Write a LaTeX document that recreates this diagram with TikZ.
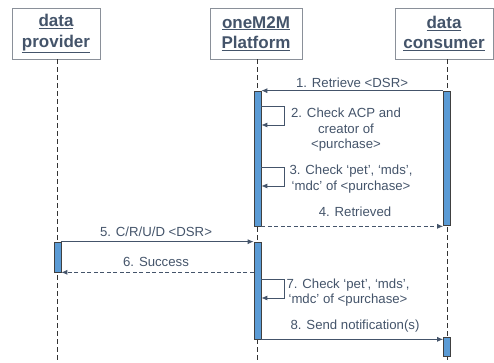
\documentclass[tikz,border=0pt]{standalone}
\usepackage{fontspec}
\setmainfont{Liberation Sans}
\usepackage{xcolor}
\usetikzlibrary{positioning,calc,arrows.meta}
\definecolor{slate}{HTML}{44546A}
\definecolor{barblue}{HTML}{5B9BD5}
\definecolor{boxgray}{HTML}{8A9099}

\begin{document}
\begin{tikzpicture}[
    x=1pt, y=-1pt,
    every node/.style={inner sep=0pt, text=slate},
    actor/.style={rectangle, draw=boxgray, line width=0.9pt, minimum height=51pt,
        align=center, font=\fontsize{17}{20.5}\selectfont\bfseries},
    bar/.style={rectangle, draw=black!75, fill=barblue, line width=0.7pt, minimum width=7pt},
    lifeline/.style={draw=black!80, line width=0.7pt, dash pattern=on 5pt off 3pt},
    msg/.style={draw=slate, line width=0.8pt, -{Latex[length=6pt,width=5pt]}},
    reply/.style={msg, dash pattern=on 4pt off 2.5pt},
    lbl/.style={font=\fontsize{13.2}{15.5}\selectfont, align=center}
]
    \useasboundingbox (0,0) rectangle (494,363);

    % participants
    \node[actor, minimum width=88pt] (prov) at (56,33.5) {\underline{data}\\\underline{provider}};
    \node[actor, minimum width=92pt] (plat) at (256,33.5) {\underline{oneM2M}\\\underline{Platform}};
    \node[actor, minimum width=98pt] (cons) at (444,33.5) {\underline{data}\\\underline{consumer}};

    \coordinate (provend) at (57.5,363);
    \coordinate (platend) at (257.5,363);
    \coordinate (consend) at (447,363);
    \draw[lifeline] (provend |- prov.south) -- (provend);
    \draw[lifeline] (platend |- plat.south) -- (platend);
    \draw[lifeline] (consend |- cons.south) -- (consend);

    % activation bars
    \node[bar, minimum height=135pt] (pbar1) at (257.5,158.5) {};
    \node[bar, minimum height=134pt] (cbar1) at (447,158) {};
    \node[bar, minimum height=30pt] (vbar) at (57.5,257) {};
    \node[bar, minimum height=97pt] (pbar2) at (257.5,290.5) {};
    \node[bar, minimum height=19pt] (cbar2) at (447,346.5) {};

    % messages
    \draw[msg] (cbar1.north west) -- (pbar1.north east);
    \node[lbl] (l1) at (352,83) {1. Retrieve <DSR>};

    \draw[msg] (pbar1.east |- 0,106) -- ++(23,0) |- (pbar1.east |- 0,125);
    \node[lbl] (l2) at (346,130) {2. Check ACP and\\creator of\\<purchase>};

    \draw[msg] (pbar1.east |- 0,167) -- ++(23,0) |- (pbar1.east |- 0,186);
    \node[lbl] (l3) at (351,179) {3. Check `pet', `mds',\\`mdc' of <purchase>};

    \draw[reply] (pbar1.south east) -- (pbar1.south east -| cbar1.west);
    \node[lbl] (l4) at (355,212) {4. Retrieved};

    \draw[msg] (vbar.north east) -- (pbar2.north west);
    \node[lbl] (l5) at (156,232) {5. C/R/U/D <DSR>};

    \draw[reply] (pbar2.west |- vbar.south) -- (vbar.south east);
    \node[lbl] (l6) at (156,262) {6. Success};

    \draw[msg] (pbar2.east |- 0,279) -- ++(23,0) |- (pbar2.east |- 0,298);
    \node[lbl] (l7) at (348,292.5) {7. Check `pet', `mds',\\`mdc' of <purchase>};

    \draw[msg] (pbar2.south east) -- (pbar2.south east -| cbar2.west);
    \node[lbl] (l8) at (355,326) {8. Send notification(s)};
\end{tikzpicture}
\end{document}
